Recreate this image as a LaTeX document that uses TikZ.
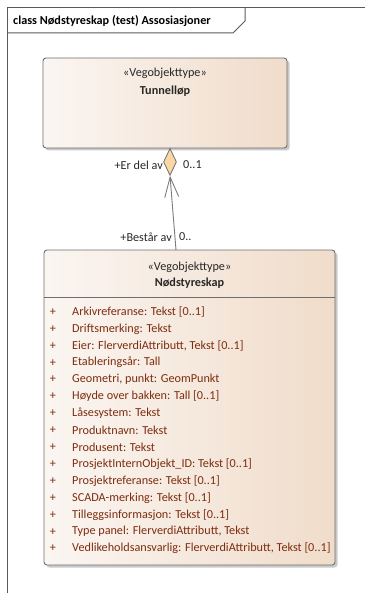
\documentclass[tikz,border=0pt]{standalone}
\usepackage{fontspec}
\setmainfont{Carlito}
\usetikzlibrary{shapes.geometric,arrows.meta,shadows,positioning}
\definecolor{frameline}{RGB}{90,90,90}
\definecolor{boxline}{RGB}{110,110,110}
\definecolor{attrcol}{RGB}{125,45,15}
\definecolor{boxleft}{RGB}{251,246,242}
\definecolor{boxright}{RGB}{240,220,202}
\definecolor{diafill}{RGB}{250,215,165}
\definecolor{labcol}{RGB}{40,40,40}
\newcommand{\fsz}{\fontsize{12.2}{14}\selectfont}
\tikzset{
  classbox/.style={draw=boxline, line width=0.9pt, rounded corners=3pt,
    left color=boxleft, right color=boxright,
    drop shadow={shadow xshift=2.5pt, shadow yshift=-2.5pt, fill=black!35, opacity=0.6}},
  stereo/.style={font=\fsz, text=labcol, inner sep=0pt},
  cname/.style={font=\fsz\bfseries, text=labcol, inner sep=0pt},
  attr/.style={font=\fsz, text=attrcol, inner sep=0pt, anchor=west},
  plus/.style={font=\fsz, text=attrcol, inner sep=0pt},
  rolelab/.style={font=\fsz, text=labcol, inner sep=0pt},
  conn/.style={draw=frameline!80, line width=0.9pt},
}
\begin{document}
\begin{tikzpicture}[x=1pt,y=-1pt]
\useasboundingbox (0,0) rectangle (365,593);
% frame
\draw[frameline, line width=1pt] (365,8) -- (7,8) -- (7,593);
\draw[frameline, line width=1pt] (7,33) -- (233,33) -- (245,21) -- (245,8);
\node[anchor=west, inner sep=0pt, font=\fsz\bfseries, text=black] (title) at (13,21) {class Nødstyreskap (test) Assosiasjoner};
% Tunnelløp
\path[classbox] (43,58) rectangle (287,148);
\coordinate (tunS) at (170,148);
\node[stereo] (tunst) at (165,73) {«Vegobjekttype»};
\node[cname] (tunname) at (165,91) {Tunnelløp};
% Nødstyreskap
\path[classbox] (44,250) rectangle (335,565);
\draw[boxline, line width=0.9pt] (44,297) -- (335,297);
\coordinate (nodN) at (176,250);
\node[stereo] (nodst) at (189.5,267) {«Vegobjekttype»};
\node[cname] (nodname) at (189.5,283) {Nødstyreskap};
\foreach \i/\t in {0/{Arkivreferanse: Tekst [0..1]},
  1/{Driftsmerking: Tekst},
  2/{Eier: FlerverdiAttributt, Tekst [0..1]},
  3/{Etableringsår: Tall},
  4/{Geometri, punkt: GeomPunkt},
  5/{Høyde over bakken: Tall [0..1]},
  6/{Låsesystem: Tekst},
  7/{Produktnavn: Tekst},
  8/{Produsent: Tekst},
  9/{ProsjektInternObjekt\_ID: Tekst [0..1]},
  10/{Prosjektreferanse: Tekst [0..1]},
  11/{SCADA-merking: Tekst [0..1]},
  12/{Tilleggsinformasjon: Tekst [0..1]},
  13/{Type panel: FlerverdiAttributt, Tekst},
  14/{Vedlikeholdsansvarlig: FlerverdiAttributt, Tekst [0..1]}} {
  \node[plus] (p\i) at (53,312+16.9*\i) {+};
  \node[attr] (a\i) at (72,312+16.9*\i) {\t};
}
% association
\node[diamond, draw=boxline, fill=diafill, line width=0.8pt, minimum width=13pt, minimum height=27pt, inner sep=0pt, anchor=north] (dia) at (tunS) {};
\draw[conn, {Straight Barb[length=20pt,width=14pt]}-] (dia.south) -- (nodN);
\node[rolelab, anchor=east] (r1) at (163,165) {+Er del av};
\node[rolelab, anchor=west] (m1) at (183,165) {0..1};
\node[rolelab, anchor=east] (r2) at (172,237) {+Består av};
\node[rolelab, anchor=west] (m2) at (179,237) {0..};
\end{tikzpicture}
\end{document}
